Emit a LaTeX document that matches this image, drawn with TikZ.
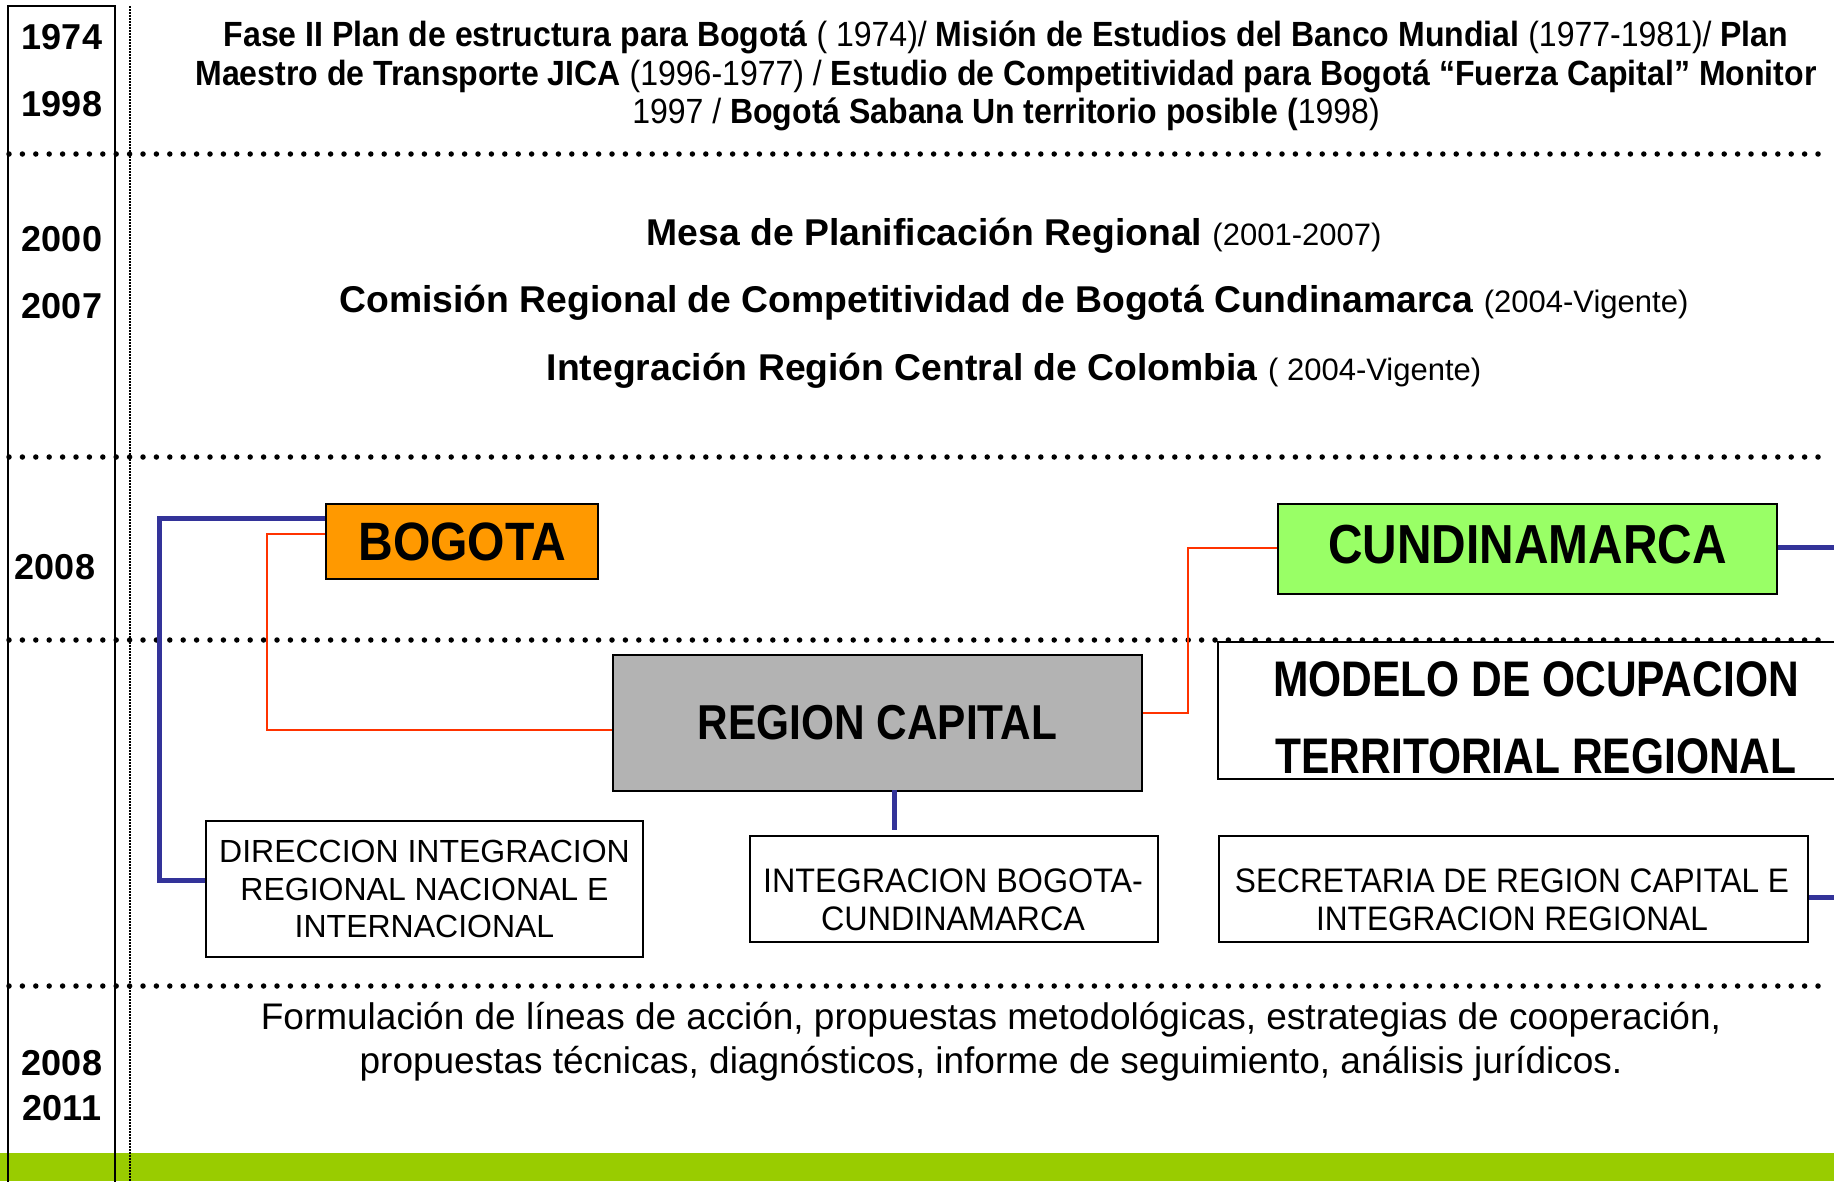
\documentclass[tikz,border=0pt]{standalone}
\usepackage{fontspec}
\setmainfont{Liberation Sans}
\newfontfamily\condtop[FakeStretch=0.915]{Liberation Sans}
\newfontfamily\condbog[FakeStretch=0.89]{Liberation Sans}
\newfontfamily\condcun[FakeStretch=0.87]{Liberation Sans}
\newfontfamily\condrc[FakeStretch=0.865]{Liberation Sans}
\newfontfamily\cond[FakeStretch=0.85]{Liberation Sans}
\newfontfamily\condint[FakeStretch=0.95]{Liberation Sans}
\newfontfamily\condsec[FakeStretch=0.93]{Liberation Sans}
\definecolor{orangeB}{HTML}{FF9900}
\definecolor{greenC}{HTML}{99FF66}
\definecolor{grayR}{HTML}{B3B3B3}
\definecolor{blueL}{HTML}{333399}
\definecolor{redL}{HTML}{FF3300}
\definecolor{barG}{HTML}{99CC00}
\tikzset{
  dotline/.style={line width=5.5pt, dash pattern=on 0pt off 13.4pt, line cap=round},
  blueline/.style={draw=blueL, line width=5pt},
  redline/.style={draw=redL, line width=2.5pt},
  boxbase/.style={draw=black, line width=2.5pt, inner sep=0pt, align=center},
  boxtext/.style={inner sep=0pt, align=center},
  yearlbl/.style={font=\bfseries\fontsize{36}{40}\selectfont, inner sep=0pt},
}
\begin{document}
\begin{tikzpicture}[x=1pt,y=-1pt]
\useasboundingbox (0,0) rectangle (1834,1181);
% green bar
\fill[barG] (0,1153) rectangle (1834,1181);
% column frame
\draw[line width=2pt] (8,1190) -- (8,6) -- (115,6) -- (115,1190);
\draw[line width=1.5pt, dash pattern=on 1.5pt off 1.5pt] (130,6) -- (130,1181);
% dotted separators
\foreach \yy in {154,457,640,986}{
  \draw[dotline] (9,\yy) -- (1823,\yy);
}
% years
\node[yearlbl] (y1) at (62,37) {1974};
\node[yearlbl] (y2) at (62,104) {1998};
\node[yearlbl] (y3) at (62,239) {2000};
\node[yearlbl] (y4) at (62,306) {2007};
\node[yearlbl] (y5) at (55,567) {2008};
\node[yearlbl] (y6) at (62,1063) {2008};
\node[yearlbl] (y7) at (62,1108) {2011};
% top text
\node[align=center, inner sep=0pt, font=\condtop\fontsize{35}{38.5}\selectfont] (top) at (1006,76) {%
\textbf{Fase II Plan de estructura para Bogotá} ( 1974)/ \textbf{Misión de Estudios del Banco Mundial} (1977-1981)/ \textbf{Plan}\\
\textbf{Maestro de Transporte JICA} (1996-1977) / \textbf{Estudio de Competitividad para Bogotá “Fuerza Capital” Monitor}\\
1997 / \textbf{Bogotá Sabana Un territorio posible (}1998)};
% middle block
\node[inner sep=0pt] (m1) at (1014,236) {\fontsize{37.3}{41}\selectfont\textbf{Mesa de Planificación Regional} {\fontsize{31}{34}\selectfont(2001-2007)}};
\node[inner sep=0pt] (m2) at (1014,303) {\fontsize{37.3}{41}\selectfont\textbf{Comisión Regional de Competitividad de Bogotá Cundinamarca} {\fontsize{31}{34}\selectfont(2004-Vigente)}};
\node[inner sep=0pt] (m3) at (1014,371) {\fontsize{37.3}{41}\selectfont\textbf{Integración Región Central de Colombia} {\fontsize{31}{34}\selectfont( 2004-Vigente)}};
% boxes
\node[boxbase, fill=orangeB, minimum width=272pt, minimum height=75pt, font=\condbog\bfseries\fontsize{54}{60}\selectfont] (bogota) at (462,541.5) {BOGOTA};
\node[boxbase, fill=greenC, minimum width=499pt, minimum height=90pt] (cund) at (1527.5,549) {};
\node[boxtext, font=\condcun\bfseries\fontsize{55}{60}\selectfont] (cundt) at (1527.5,545) {CUNDINAMARCA};
\node[boxbase, fill=grayR, minimum width=529pt, minimum height=136pt, font=\condrc\bfseries\fontsize{49}{55}\selectfont] (rc) at (877.5,723) {REGION CAPITAL};
\node[boxbase, fill=white, minimum width=632pt, minimum height=137pt] (modelo) at (1534,710.5) {};
\node[boxtext, font=\cond\bfseries\fontsize{50}{77}\selectfont] (modelot) at (1536,718) {MODELO DE OCUPACION\\TERRITORIAL REGIONAL};
\node[boxbase, fill=white, minimum width=437pt, minimum height=136pt, font=\fontsize{32}{37.5}\selectfont] (direc) at (424.5,889) {DIRECCION INTEGRACION\\REGIONAL NACIONAL E\\INTERNACIONAL};
\node[boxbase, fill=white, minimum width=408pt, minimum height=106pt] (integ) at (954,889) {};
\node[boxtext, font=\condint\fontsize{34}{38.5}\selectfont] (integt) at (953,900) {INTEGRACION BOGOTA-\\CUNDINAMARCA};
\node[boxbase, fill=white, minimum width=589pt, minimum height=106pt] (secret) at (1513.5,889) {};
\node[boxtext, font=\condsec\fontsize{34}{38.5}\selectfont] (secrett) at (1512,900) {SECRETARIA DE REGION CAPITAL E\\INTEGRACION REGIONAL};
% connectors
\coordinate (bl1) at (159,518);
\coordinate (bl2) at (159,880);
\draw[blueline] (bogota.west |- bl1) -- (bl1) -- (bl2) -- (direc.west |- bl2);
\coordinate (r1) at (267,534);
\coordinate (r2) at (267,730);
\draw[redline] (bogota.west |- r1) -- (r1) -- (r2) -- (rc.west |- r2);
\coordinate (r3) at (1188,713);
\coordinate (r4) at (1188,548);
\draw[redline] (rc.east |- r3) -- (r3) -- (r4) -- (cund.west |- r4);
\coordinate (bs) at (894,830);
\draw[blueline] ([yshift=2pt]bs |- rc.south) -- (bs);
\coordinate (ce) at (1840,547);
\draw[blueline] (cund.east |- ce) -- (ce);
\coordinate (se) at (1840,897);
\draw[blueline] (secret.east |- se) -- (se);
% bottom text
\node[align=center, inner sep=0pt, font=\fontsize{37}{44.4}\selectfont] (bottom) at (991,1042) {Formulación de líneas de acción, propuestas metodológicas, estrategias de cooperación,\\propuestas técnicas, diagnósticos, informe de seguimiento, análisis jurídicos.};
\end{tikzpicture}
\end{document}
